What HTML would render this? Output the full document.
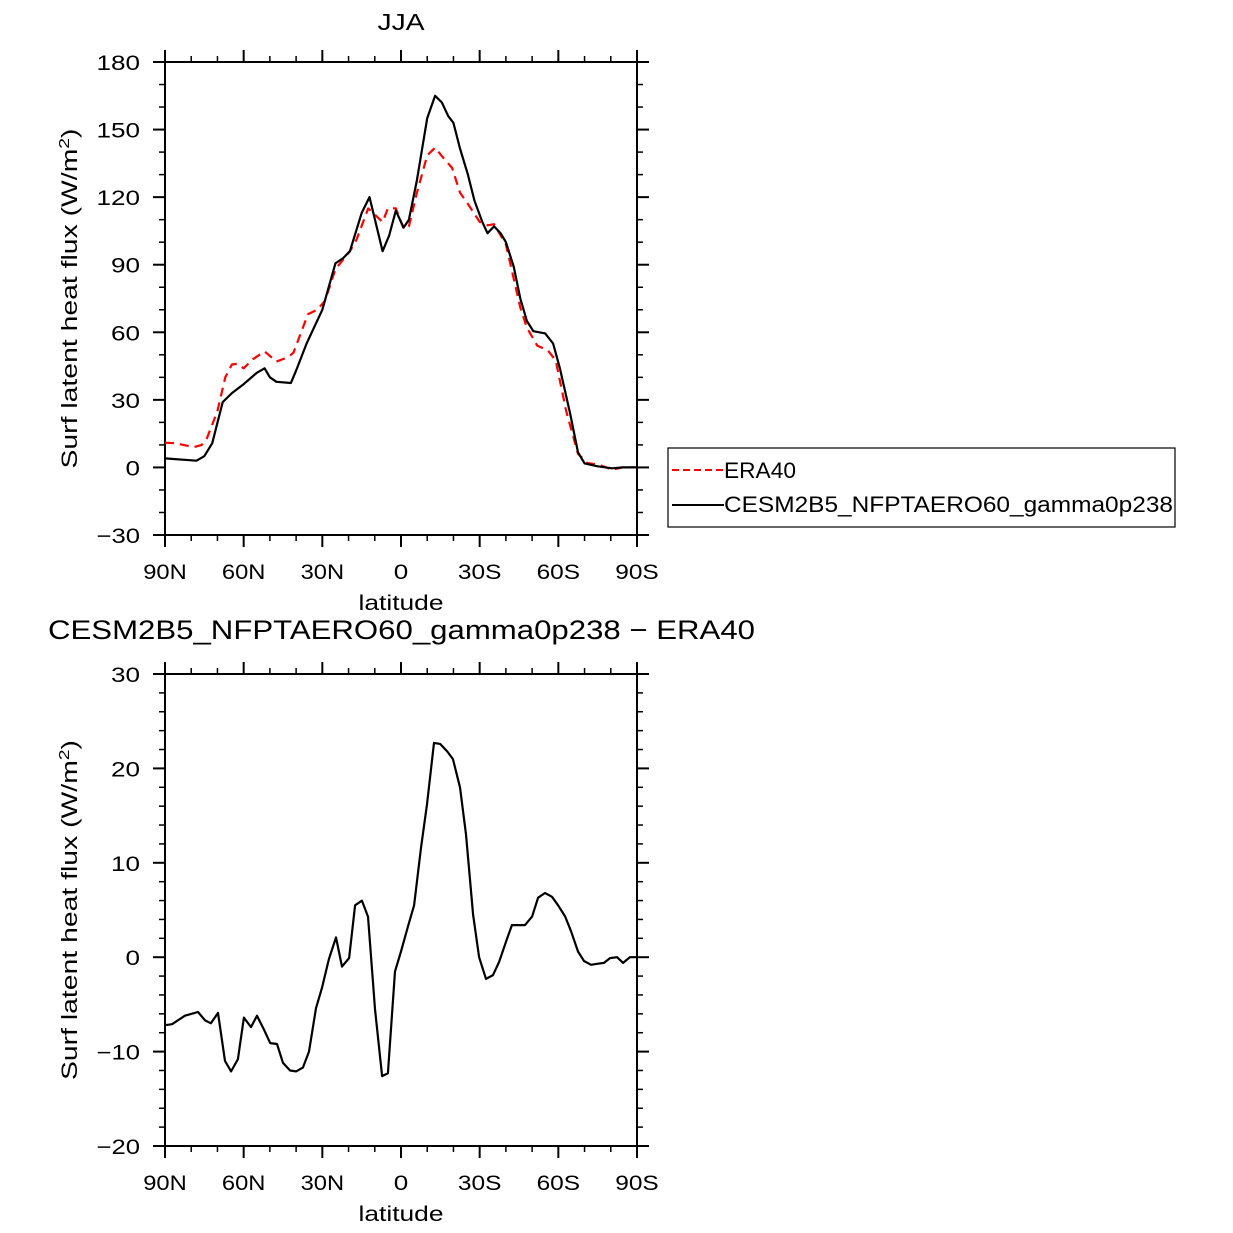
<!DOCTYPE html>
<html><head><meta charset="utf-8"><style>
html,body{margin:0;padding:0;background:#fff;}
svg{display:block;font-family:"Liberation Sans","DejaVu Sans",sans-serif;}
</style></head><body>
<svg id="chart" width="1233" height="1233" viewBox="0 0 1233 1233"></svg>
<script>
// ---- data ----
const latTopModel=[90,78,75,72,68,64.5,60,55,52,50,47.5,42,40,36,30,25,22,19.5,15,12,7,4.5,2,-1,-3,-6,-10,-13,-15.6,-18,-20,-22.5,-25.5,-28,-31,-33,-35.5,-38,-40,-43,-45.5,-48,-50.5,-55,-58,-60.6,-64.5,-67.5,-70,-75,-80.5,-84.5,-90];
const valTopModel=[4,3,5,10.7,29,33,37,42,44,40,38,37.5,43,55,70,90.6,93,96,113,120,96,103,114,106.5,110,127,155,165,162,156,153,141.6,130,118.5,109,104,107,104,100,89,75,65,60.5,59.5,55,44,24,6.7,1.8,0.5,-0.4,0,0];
const latTopObs=[90,86,79,76,74,70,67,64.5,62.5,60,56.5,52,47.5,43,41,35.5,32,29,25,19.5,17,12.5,7,5,2,-1,-3,-6,-10,-13,-16,-19.5,-22.5,-25.5,-30,-33,-35.5,-40,-45.5,-48,-52,-56,-59,-63,-67.5,-71,-76,-80.5,-84.5,-90];
const valTopObs=[11,10.7,9,10,13,25,40,45.7,46,44,48,51.5,47,49,51,68,70,74,88,96,101,115,109,115,115,106,107,121.6,138.5,142,137.6,133,122,117,109,107.5,108,99,71,62,54,52,47.5,25,6,2,1,-1,0,0];
const latDiff=[90,87.3,82.4,77.4,74.7,72.5,69.8,67.1,64.8,62.2,59.9,57.2,54.9,52.2,49.9,47.3,45,42.3,40,37.4,35.1,32.4,30.1,27.5,24.8,22.5,19.8,17.5,14.9,12.6,9.9,7.2,5,2.3,0,-2.7,-5,-7.6,-9.9,-12.6,-14.9,-17.6,-19.8,-22.5,-24.8,-27.5,-29.8,-32.4,-35.1,-37.4,-40.1,-42.3,-45,-47.3,-50,-52.3,-54.9,-57.6,-59.9,-62.6,-64.8,-67.5,-69.8,-72.5,-74.8,-77.4,-79.7,-82.4,-84.7,-87.3,-90];
const valDiff=[-7.2,-7.1,-6.2,-5.8,-6.7,-7,-5.9,-11,-12.1,-10.8,-6.4,-7.4,-6.2,-7.7,-9.1,-9.2,-11.2,-12,-12.1,-11.7,-10,-5.4,-3.2,-0.2,2.1,-1,-0.1,5.5,6,4.3,-5.5,-12.6,-12.3,-1.5,0.6,3.3,5.5,11.5,16.2,22.7,22.6,21.8,21,18,13,4.5,0,-2.3,-1.9,-0.5,1.7,3.4,3.4,3.4,4.3,6.3,6.8,6.4,5.5,4.3,2.8,0.6,-0.4,-0.8,-0.7,-0.6,-0.1,0,-0.6,0,0];
const xTickLats=[90,60,30,0,-30,-60,-90];
const xTickLabels=["90N","60N","30N","0","30S","60S","90S"];
const yTicksTop=[-30,0,30,60,90,120,150,180];
const yTicksBot=[-20,-10,0,10,20,30];

const svg=document.getElementById('chart');
const NS='http://www.w3.org/2000/svg';
function mk(tag,attrs,parent){const e=document.createElementNS(NS,tag);for(const k in attrs)e.setAttribute(k,attrs[k]);(parent||svg).appendChild(e);return e;}
function fit(e,len){e.setAttribute('textLength',len);e.setAttribute('lengthAdjust','spacingAndGlyphs');}

function panel(name,top,bottom,ymin,ymax,yticks,minorStep){
  const L=165,R=637;
  const g=mk('g',{});
  
  
  const x=lat=>L+(90-lat)/180*(R-L);
  const y=v=>bottom-(v-ymin)/(ymax-ymin)*(bottom-top);
  const fr=mk('rect',{x:L,y:top,width:R-L,height:bottom-top,fill:'none',stroke:'#000','stroke-width':2},g);
  
  
  for(let lat=90;lat>=-90;lat-=10){
    const maj=lat%30===0, len=maj?12:6;
    mk('line',{x1:x(lat),x2:x(lat),y1:bottom,y2:bottom+len,stroke:'#000','stroke-width':maj?2:1.5},g);
    mk('line',{x1:x(lat),x2:x(lat),y1:top,y2:top-len,stroke:'#000','stroke-width':maj?2:1.5},g);
  }
  xTickLats.forEach((lat,i)=>{
    const t=mk('text',{x:x(lat),y:bottom+44,'text-anchor':'middle','font-size':21,fill:'#000'},g);
    t.textContent=xTickLabels[i];
    fit(t,xTickLabels[i].length*14.5);
    
    
  });
  for(let v=ymin;v<=ymax+1e-9;v+=minorStep){
    const maj=yticks.some(t=>Math.abs(t-v)<1e-6), len=maj?12:6;
    mk('line',{x1:L,x2:L-len,y1:y(v),y2:y(v),stroke:'#000','stroke-width':maj?2:1.5},g);
    mk('line',{x1:R,x2:R+len,y1:y(v),y2:y(v),stroke:'#000','stroke-width':maj?2:1.5},g);
  }
  yticks.forEach(v=>{
    const s=(v<0?'\u2212'+(-v):String(v));
    const t=mk('text',{x:L-25,y:y(v)+8,'text-anchor':'end','font-size':21,fill:'#000'},g);
    t.textContent=s;
    fit(t,s.length*14.5);
    
    
  });
  const xl=mk('text',{x:(L+R)/2,y:bottom+75,'text-anchor':'middle','font-size':21,fill:'#000'},g);
  xl.textContent='latitude';
  fit(xl,85);
  
  
  const cy=(top+bottom)/2;
  const yl=mk('text',{x:77,y:cy,'text-anchor':'middle','font-size':22,fill:'#000',transform:`rotate(-90 77 ${cy})`},g);
  yl.innerHTML='Surf  latent  heat  flux  (W/m<tspan dy="-8" font-size="15">2</tspan><tspan dy="8">)</tspan>';
  fit(yl,340);
  
  
  return {g,x,y};
}
function line(p,lats,vals,color,dash,name){
  const d=vals.map((v,i)=>(i?'L':'M')+p.x(lats[i]).toFixed(1)+','+p.y(v).toFixed(1)).join(' ');
  const e=mk('path',{d:d,fill:'none',stroke:color,'stroke-width':2.2,'stroke-dasharray':dash||'none','stroke-linejoin':'round'},p.g);
  
  
}

const p1=panel('top-panel',62,535,-30,180,yTicksTop,10);
line(p1,latTopObs,valTopObs,'#f00','9 6','era40-line');
line(p1,latTopModel,valTopModel,'#000',null,'model-line');
const t1=mk('text',{x:401,y:30,'text-anchor':'middle','font-size':23,fill:'#000'});
t1.textContent='JJA';
fit(t1,47);



const p2=panel('bottom-panel',674,1146,-20,30,yTicksBot,2);
line(p2,latDiff,valDiff,'#000',null,'difference-line');
const t2=mk('text',{x:48,y:639,'font-size':27,fill:'#000'});
t2.textContent='CESM2B5_NFPTAERO60_gamma0p238 \u2212 ERA40';
fit(t2,707);



const lg=mk('g',{});


mk('rect',{x:668,y:448,width:507,height:79,fill:'#fff',stroke:'#000','stroke-width':1.2},lg);
mk('line',{x1:672,x2:724,y1:470,y2:470,stroke:'#f00','stroke-width':2,'stroke-dasharray':'7 4'},lg);
mk('line',{x1:672,x2:724,y1:505,y2:505,stroke:'#000','stroke-width':2},lg);
const le1=mk('text',{x:724,y:478,'font-size':22,fill:'#000'},lg);
le1.textContent='ERA40';
fit(le1,72);


const le2=mk('text',{x:724,y:512,'font-size':22,fill:'#000'},lg);
le2.textContent='CESM2B5_NFPTAERO60_gamma0p238';
fit(le2,449);


</script>
</body></html>
